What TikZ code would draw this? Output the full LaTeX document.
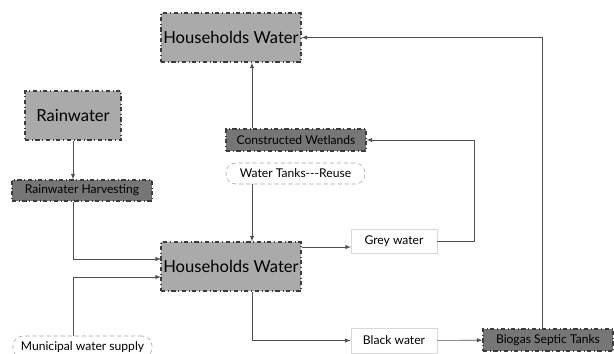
\documentclass[tikz,border=0pt]{standalone}
\usepackage{fontspec}
\setmainfont{Lato}
\usetikzlibrary{positioning, arrows, calc}
\definecolor{boxlight}{RGB}{170,170,170}
\definecolor{boxdark}{RGB}{118,118,118}
\definecolor{edge}{RGB}{60,60,60}
\definecolor{wire}{RGB}{80,80,80}

\tikzset{
	big/.style={draw=edge, fill=boxlight, dash dot, thick, inner sep=0pt, font=\fontsize{11.8}{14}\selectfont},
	dark/.style={draw=edge, fill=boxdark, dash dot, thick, inner sep=0pt, font=\fontsize{8.6}{10}\selectfont},
	plain/.style={draw=black!15, fill=white, inner sep=0pt, font=\fontsize{8.6}{10}\selectfont},
	soft/.style={draw=black!35, densely dashed, fill=white, rounded corners=7pt, inner sep=0pt, font=\fontsize{8.6}{10}\selectfont},
	arr/.style={-latex, wire, thin},
}

\begin{document}
\begin{tikzpicture}[x=0.025cm, y=-0.025cm]
	\useasboundingbox (0,0) rectangle (614,354);
	
	\node[big, minimum width=140*0.711pt, minimum height=49*0.711pt] at (231,37.5) (hwtop) {Households Water};
	\node[big, minimum width=96*0.711pt, minimum height=49*0.711pt] at (73,115.5) (rain) {Rainwater};
	\node[dark, minimum width=140*0.711pt, minimum height=21*0.711pt] at (82,190.5) (rh) {Rainwater Harvesting};
	\node[dark, minimum width=140*0.711pt, minimum height=22*0.711pt] at (296,140) (cw) {Constructed Wetlands};
	\node[soft, minimum width=139*0.711pt, minimum height=21*0.711pt] at (295.5,173.5) (tanks) {Water Tanks{-}{-}{-}Reuse};
	\node[big, minimum width=140*0.711pt, minimum height=49*0.711pt] at (231,266.5) (hw) {Households Water};
	\node[plain, minimum width=86*0.711pt, minimum height=24*0.711pt] at (394,241) (grey) {Grey water};
	\node[plain, minimum width=86*0.711pt, minimum height=25*0.711pt] at (394,340.5) (black) {Black water};
	\node[dark, minimum width=130*0.711pt, minimum height=22*0.711pt] at (548,340) (bio) {Biogas Septic Tanks};
	\node[soft, minimum width=139*0.711pt, minimum height=22*0.711pt] at (82.5,347) (muni) {Municipal water supply};
	
	\coordinate (vx) at (252,0);
	\coordinate (in1) at (161,259);
	\coordinate (in2) at (161,277);
	\coordinate (gin) at (351,247);
	
	\draw[arr] (rain) -- (rain |- rh.north);
	\draw[arr] (rh.south -| rain) |- (in1);
	\draw[arr] (muni.north -| rain) |- (in2);
	\draw[arr] (tanks.south -| vx) -- (hw.north -| vx);
	\draw[arr] (cw.north -| vx) -- (hwtop.south -| vx);
	\draw[arr] (hw.east |- gin) -- (gin);
	\draw[arr] (grey.east) -- ++(37,0) |- (cw.east);
	\draw[arr] (hw.south -| vx) |- (black.west);
	\draw[arr] (black) -- (bio);
	\draw[arr] ([xshift=-4.3pt]bio.north) |- (hwtop.east);
\end{tikzpicture}
\end{document}
